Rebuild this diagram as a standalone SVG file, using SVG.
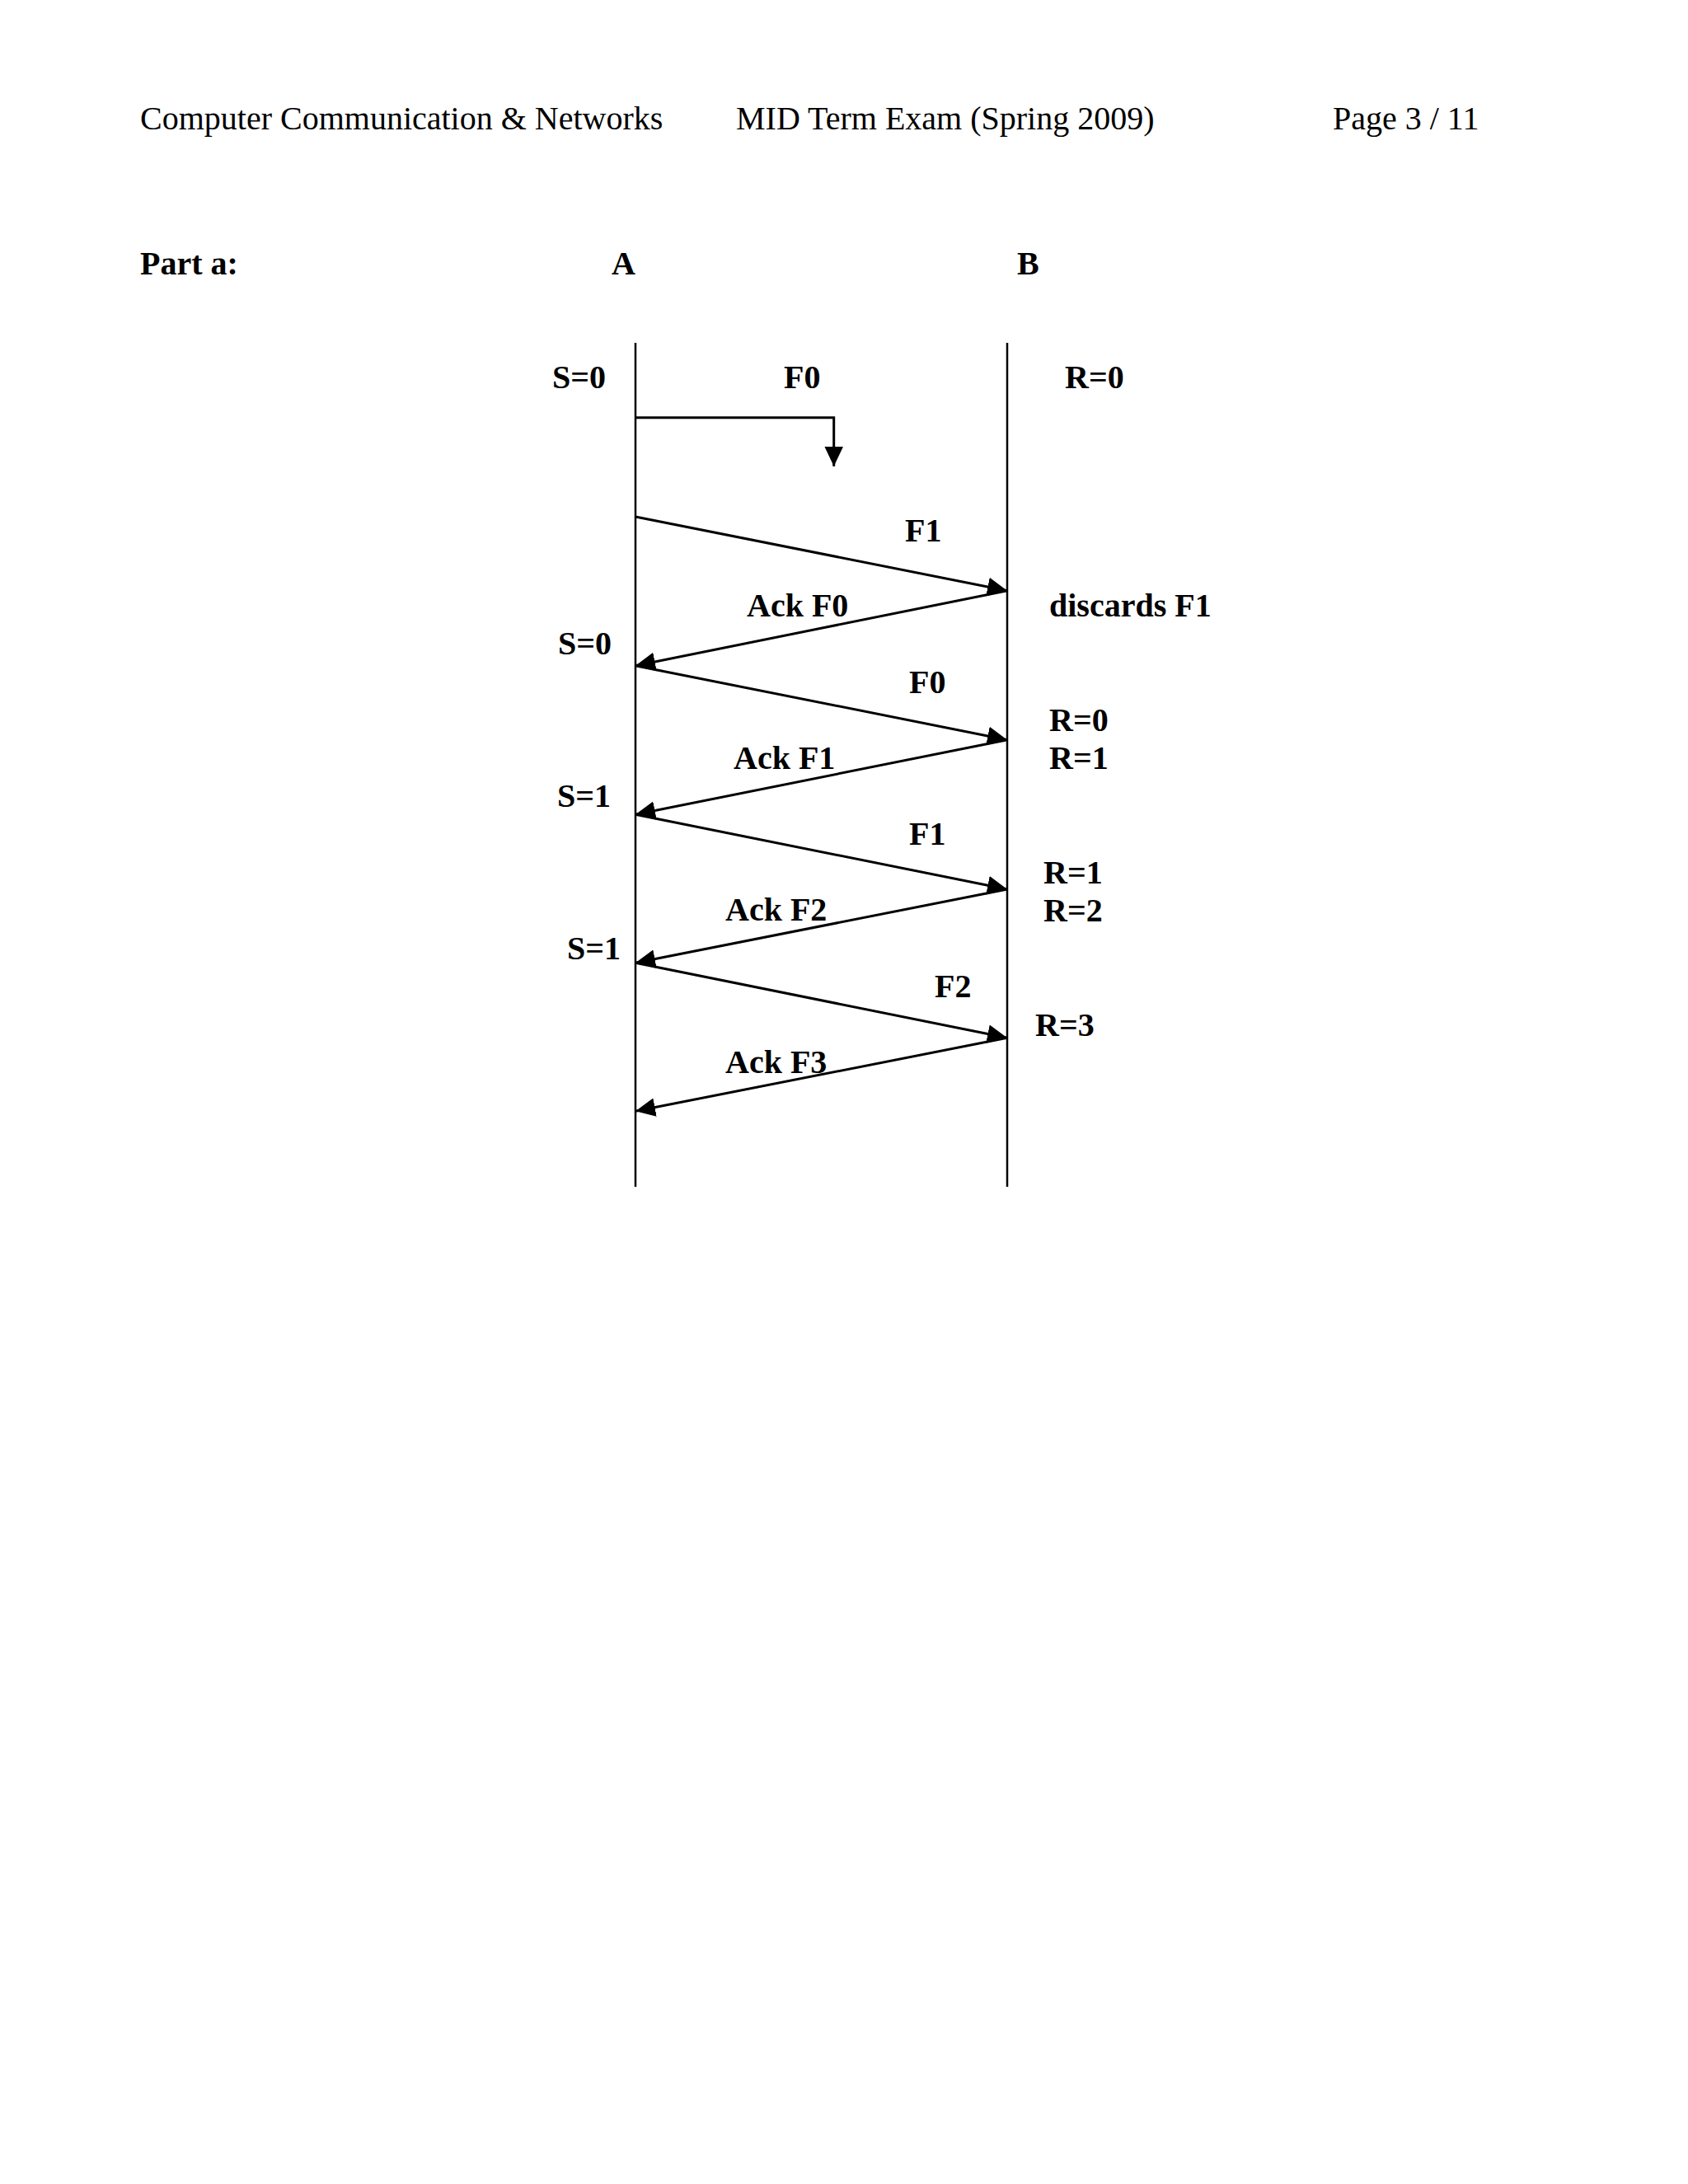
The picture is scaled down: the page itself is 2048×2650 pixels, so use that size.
<svg xmlns="http://www.w3.org/2000/svg" width="2048" height="2650" viewBox="0 0 2048 2650">
<style>
text{font-family:"Liberation Serif","Times New Roman",serif;font-size:40px;fill:#000}
.b{font-weight:bold}
.life{stroke:#000;stroke-width:2.5;fill:none}
.msg{stroke:#000;stroke-width:3;fill:none;marker-end:url(#ah)}
</style>
<defs>
<marker id="ah" markerUnits="userSpaceOnUse" markerWidth="24" markerHeight="24" viewBox="0 0 20 20" refX="20" refY="10" orient="auto">
<path d="M0,0.5 L20,10 L0,19.5 Z" fill="#000"/>
</marker>
</defs>
<rect width="2048" height="2650" fill="#fff"/>
<g id="header">
<text x="170" y="157">Computer Communication &amp; Networks</text>
<text x="893" y="157">MID Term Exam (Spring 2009)</text>
<text x="1617" y="157">Page 3 / 11</text>
<text class="b" x="170" y="333">Part a:</text>
</g>
<g id="nodeA">
<text class="b" x="742" y="333">A</text>
<line class="life" x1="771" y1="416" x2="771" y2="1440"/>
</g>
<g id="nodeB">
<text class="b" x="1234" y="333">B</text>
<line class="life" x1="1222" y1="416" x2="1222" y2="1440"/>
</g>
<g id="connectors">
<path class="msg" d="M771,506.7 H1011.7 V565.7"/>
<line class="msg" x1="771" y1="627" x2="1222" y2="716.7"/>
<line class="msg" x1="1222" y1="716.7" x2="771" y2="807.7"/>
<line class="msg" x1="771" y1="807.7" x2="1222" y2="897.7"/>
<line class="msg" x1="1222" y1="897.7" x2="771" y2="988.3"/>
<line class="msg" x1="771" y1="988.3" x2="1222" y2="1079"/>
<line class="msg" x1="1222" y1="1079" x2="771" y2="1168.3"/>
<line class="msg" x1="771" y1="1168.3" x2="1222" y2="1259.3"/>
<line class="msg" x1="1222" y1="1259.3" x2="771" y2="1348.3"/>
</g>
<g id="labels" class="b">
<text class="b" x="670" y="471">S=0</text>
<text class="b" x="951" y="471">F0</text>
<text class="b" x="1292" y="471">R=0</text>
<text class="b" x="1098" y="657">F1</text>
<text class="b" x="906" y="748">Ack F0</text>
<text class="b" x="1273" y="748">discards F1</text>
<text class="b" x="677" y="794">S=0</text>
<text class="b" x="1103" y="841">F0</text>
<text class="b" x="1273" y="887">R=0</text>
<text class="b" x="1273" y="933">R=1</text>
<text class="b" x="890" y="933">Ack F1</text>
<text class="b" x="676" y="979">S=1</text>
<text class="b" x="1103" y="1025">F1</text>
<text class="b" x="1266" y="1072">R=1</text>
<text class="b" x="1266" y="1118">R=2</text>
<text class="b" x="880" y="1117">Ack F2</text>
<text class="b" x="688" y="1164">S=1</text>
<text class="b" x="1134" y="1210">F2</text>
<text class="b" x="1256" y="1257">R=3</text>
<text class="b" x="880" y="1302">Ack F3</text>
</g>
</svg>
